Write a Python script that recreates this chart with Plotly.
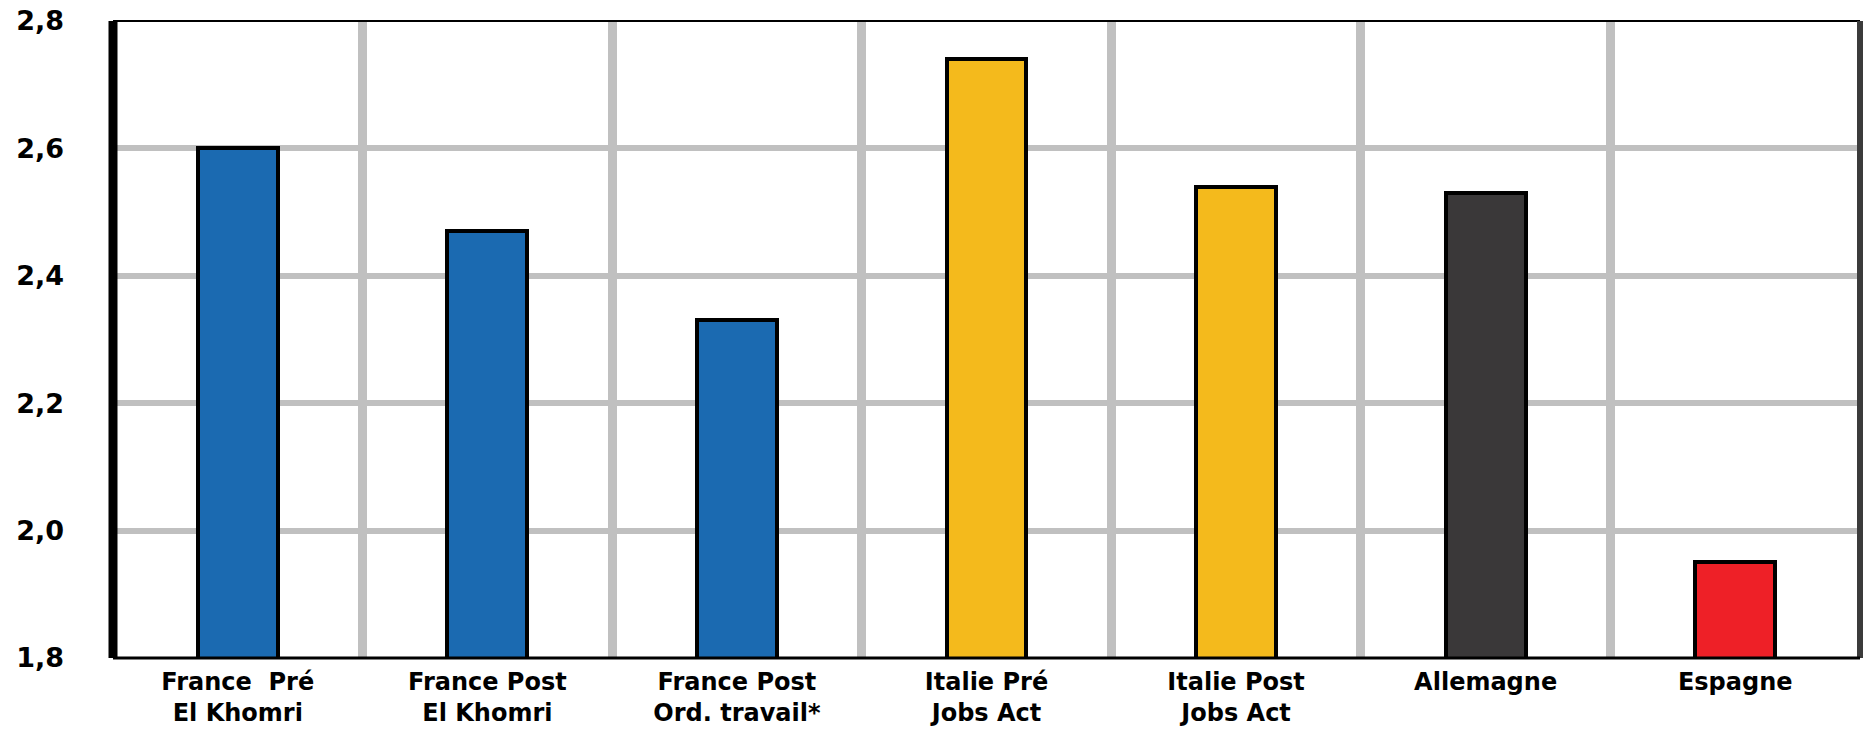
import plotly.graph_objects as go

categories = [
    "France\u00a0 Pré<br>El Khomri",
    "France Post<br>El Khomri",
    "France Post<br>Ord. travail*",
    "Italie Pré<br>Jobs Act",
    "Italie Post<br>Jobs Act",
    "Allemagne",
    "Espagne",
]
values = [2.60, 2.47, 2.33, 2.74, 2.54, 2.53, 1.95]
bar_colors = ["#1B6AB1", "#1B6AB1", "#1B6AB1", "#F4BA1C", "#F4BA1C", "#3A3839", "#EE2027"]

y_ticks = [1.8, 2.0, 2.2, 2.4, 2.6, 2.8]

fig = go.Figure()
fig.add_trace(go.Bar(
    x=categories,
    y=values,
    width=0.32,
    marker=dict(color=bar_colors, line=dict(color="#000000", width=4)),
    showlegend=False,
    hoverinfo="x+y",
))

xfont = dict(family="DejaVu Sans", size=24, color="#000000", weight="bold")
yfont = dict(family="DejaVu Sans", size=27, color="#000000", weight="bold")

fig.update_layout(
    width=1865,
    height=730,
    margin=dict(l=113, r=5, t=21, b=72),
    paper_bgcolor="white",
    plot_bgcolor="white",
    separators=", ",
    bargap=0.0,
    xaxis=dict(
        type="category",
        tickson="boundaries",
        showgrid=True,
        gridcolor="#C0C0C0",
        gridwidth=9,
        showline=False,
        zeroline=False,
        ticks="",
        tickfont=xfont,
        ticklabelstandoff=7,
        ticklabeloverflow="allow",
        range=[-0.5, 6.5],
        automargin=False,
    ),
    yaxis=dict(
        range=[1.8, 2.8],
        tickvals=y_ticks,
        tickformat=".1f",
        showgrid=True,
        gridcolor="#C0C0C0",
        gridwidth=6,
        showline=False,
        zeroline=False,
        ticks="",
        ticklabelstandoff=48,
        ticklabeloverflow="allow",
        tickfont=yfont,
        automargin=False,
    ),
    shapes=[
        dict(type="line", xref="paper", yref="paper", x0=0, x1=0, y0=0, y1=1,
             line=dict(color="#000000", width=9), layer="above"),
        dict(type="line", xref="paper", yref="paper", x0=0, x1=1, y0=1, y1=1,
             line=dict(color="#000000", width=2), layer="above"),
        dict(type="line", xref="paper", yref="paper", x0=1, x1=1, y0=0, y1=1,
             line=dict(color="#3B3B3B", width=6), layer="above"),
        dict(type="line", xref="paper", yref="paper", x0=0, x1=1, y0=0, y1=0,
             line=dict(color="#000000", width=3), layer="above"),
    ],
)

# remove the browser's default 8px body margin so the figure fills the window
fig.write_html(
    "out.html",
    config={"displayModeBar": False},
    post_script="document.body.style.margin='0';",
)
